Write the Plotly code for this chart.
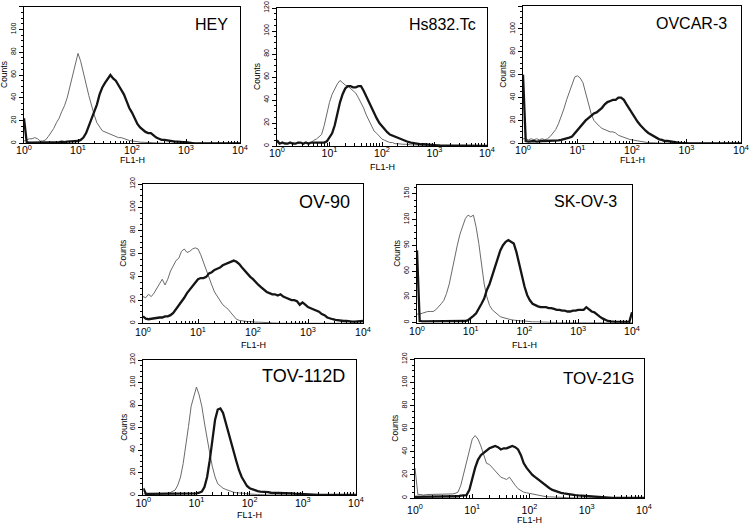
import plotly.graph_objects as go

# ---------------- data ----------------
# FL1-H channel positions (log-spaced, 20 per decade)
fl1 = [1.0, 1.122, 1.259, 1.413, 1.585, 1.778, 1.995, 2.239, 2.512, 2.818,
       3.162, 3.548, 3.981, 4.467, 5.012, 5.623, 6.31, 7.079, 7.943, 8.913,
       10.0, 11.22, 12.59, 14.13, 15.85, 17.78, 19.95, 22.39, 25.12, 28.18,
       31.62, 35.48, 39.81, 44.67, 50.12, 56.23, 63.1, 70.79, 79.43, 89.13,
       100.0, 112.2, 125.9, 141.3, 158.5, 177.8, 199.5, 223.9, 251.2, 281.8,
       316.2, 354.8, 398.1, 446.7, 501.2, 562.3, 631.0, 707.9, 794.3, 891.3,
       1000, 1122, 1259, 1413, 1585, 1778, 1995, 2239, 2512, 2818,
       3162, 3548, 3981, 4467, 5012, 5623, 6310, 7079, 7943, 8913,
       10000]

cell_lines = ["HEY", "Hs832.Tc", "OVCAR-3", "OV-90", "SK-OV-3", "TOV-112D", "TOV-21G"]

hey_ctrl = [2, 3, 4, 4, 5, 4, 2, 2, 3, 6,
            9, 13, 18, 22, 28, 33, 40, 50, 58, 68,
            79, 72, 63, 52, 42, 33, 25, 18, 14, 11,
            10, 9, 8, 7, 6, 5, 5, 4, 3, 2.5,
            2, 2, 1.5, 1, 1, 1, 0.8, 0.5, 0.5, 0.3,
            0, 0, 0, 0, 0, 0, 0, 0, 0, 0,
            0, 0, 0, 0, 0, 0, 0, 0, 0, 0,
            0, 0, 0, 0, 0, 0, 0, 0, 0, 0,
            0]
hey_stain = [22, 1, 0.5, 0.5, 1, 0.5, 1, 1, 1, 1,
             1, 1, 1, 1, 1.5, 1, 1.5, 1.5, 1.5, 2,
             2, 3, 5, 9, 15, 21, 28, 34, 43, 49,
             53, 56, 60, 57, 55, 51, 47, 43, 37, 31,
             27, 22, 17, 14, 12, 10, 9, 9, 7, 5,
             4, 3, 3, 2.5, 2, 2, 1.5, 1.5, 1, 1,
             1, 0.5, 0.3, 0, 0, 0, 0, 0, 0, 0,
             0, 0, 0, 0, 0, 0, 0, 0, 0, 0,
             0]

hs_ctrl = [3, 2, 2, 3, 2, 2, 3, 2, 2, 3,
           2, 3, 3, 3, 5, 6, 8, 10, 18, 28,
           38, 45, 50, 54, 57, 55, 53, 52, 50, 48,
           46, 42, 38, 33, 27, 22, 17, 13, 11, 8,
           6, 5, 4, 3, 3, 2, 2, 1.5, 1.5, 1.5,
           1, 1, 1, 1, 1, 1, 1, 0.8, 0.5, 0.5,
           0.5, 0.5, 0.3, 0, 0, 0, 0, 0, 0, 0,
           0, 0, 0, 0, 0, 0, 0, 0, 0, 0,
           0]
hs_stain = [5, 2, 3, 2, 2, 3, 2, 2, 3, 3,
            2, 3, 2, 3, 3, 3, 3, 3, 3, 4,
            7, 11, 18, 28, 38, 45, 50, 52, 52, 51,
            51, 52, 52, 48, 43, 38, 33, 29, 24, 20,
            17, 14, 12, 10, 9, 8, 7, 6, 5, 4,
            3.5, 3, 2.5, 2, 2, 1.5, 1.5, 1.2, 1, 1,
            0.8, 0.6, 0.5, 0.5, 0.3, 0, 0, 0, 0, 0,
            0, 0, 0, 0, 0, 0, 0, 0, 0, 0,
            0]

ovcar3_ctrl = [4, 4, 3, 4, 3, 4, 3, 4, 3, 4,
               6, 9, 12, 17, 23, 30, 38, 45, 53, 58,
               59, 57, 53, 44, 34, 26, 20, 17, 15, 13,
               12, 11, 10, 10, 9, 7, 6, 5, 4.5, 3.5,
               3, 2.5, 2, 1.5, 1, 0.8, 0.5, 0.5, 0.3, 0,
               0, 0, 0, 0, 0, 0, 0, 0, 0, 0,
               0, 0, 0, 0, 0, 0, 0, 0, 0, 0,
               0, 0, 0, 0, 0, 0, 0, 0, 0, 0,
               0]
ovcar3_stain = [60, 2, 1.5, 2, 2, 1.5, 2, 2, 2, 2,
                2, 2.5, 2.5, 2.5, 3, 3.5, 4, 5, 6, 9,
                12, 15, 18, 20, 22, 24, 26, 27, 29, 31,
                34, 36, 37, 38, 38, 40, 40, 38, 34, 30,
                26, 22, 19, 16, 13, 11, 9, 7.5, 6, 5,
                3.5, 3, 2, 2, 1.5, 1.2, 1, 0.5, 0.3, 0,
                0, 0, 0, 0, 0, 0, 0, 0, 0, 0,
                0, 0, 0, 0, 0, 0, 0, 0, 0, 0,
                0]

ov90_ctrl = [23, 22, 25, 23, 26, 30, 35, 38, 33, 38,
             45, 49, 54, 56, 62, 64, 61, 62, 64, 65,
             64, 59, 52, 46, 40, 33, 27, 23, 19, 16,
             14, 12, 9, 6, 3.5, 2.5, 2, 2, 1.5, 1.5,
             1, 1, 1, 1, 0.5, 0.5, 0.5, 0.3, 0, 0,
             0, 0, 0, 0, 0, 0, 0, 0, 0, 0,
             0, 0, 0, 0, 0, 0, 0, 0, 0, 0,
             0, 0, 0, 0, 0, 0, 0, 0, 0, 0,
             0]
ov90_stain = [6, 4, 3.5, 4, 4, 4.5, 5, 5, 6, 6,
              7, 9, 12, 16, 19, 22, 26, 29, 32, 36,
              38, 39, 39, 40, 43, 44, 46, 47, 48, 50,
              51, 52, 53, 54, 53, 51, 48, 45, 42, 40,
              38, 35, 33, 31, 29, 27, 26, 25, 25, 24,
              25, 23, 22, 21, 20, 20, 19, 16, 18, 16,
              14, 13, 12, 11, 10, 8, 7, 5, 4, 3.5,
              3, 2.5, 2, 2, 2, 1.5, 1.5, 1.5, 1.5, 1.5,
              2]

skov3_ctrl = [10, 10, 11, 12, 13, 13, 13, 15, 18, 22,
              26, 34, 45, 61, 76, 90, 103, 113, 121, 125,
              123, 125, 111, 92, 69, 45, 30, 20, 15, 12,
              9, 7, 6, 5, 4, 3.5, 3, 2.5, 2, 2,
              2, 1.5, 1.5, 1, 1, 1, 1, 0.8, 0.5, 0.5,
              0.5, 0.3, 0, 0, 0, 0, 0, 0, 0, 0,
              0, 0, 0, 0, 0, 0, 0, 0, 0, 0,
              0, 0, 0, 0, 0, 0, 0, 0, 0, 0,
              0]
skov3_stain = [84, 2, 1.5, 1.5, 1.5, 1.5, 1.5, 1.5, 1.5, 1.5,
               1.5, 1.5, 1.5, 1.5, 1.5, 1.5, 1.5, 1.5, 2, 3,
               5, 8, 11, 16, 22, 28, 38, 45, 55, 65,
               76, 84, 90, 94, 96, 94, 92, 82, 69, 53,
               42, 32, 26, 22, 20, 19, 18, 18, 18, 17,
               17, 16, 15, 15, 14, 14, 13, 13, 14, 14,
               15, 15, 15, 18, 15, 13, 12, 9, 7, 5,
               3, 2, 1.5, 1, 1, 1, 1, 1, 1, 1,
               12]

tov112_ctrl = [1, 1, 1, 1, 1, 1, 1, 1, 1.5, 1.5,
               2, 3, 4.5, 9, 16, 28, 43, 61, 79, 88,
               96, 89, 79, 64, 49, 37, 25, 16, 10, 8,
               6, 5, 4, 3, 2.5, 2, 2, 1.5, 1.5, 1,
               1, 0.8, 0.5, 0.5, 0.3, 0, 0, 0, 0, 0,
               0, 0, 0, 0, 0, 0, 0, 0, 0, 0,
               0, 0, 0, 0, 0, 0, 0, 0, 0, 0,
               0, 0, 0, 0, 0, 0, 0, 0, 0, 0,
               0]
tov112_stain = [6, 1, 1, 1, 1, 1, 1, 1, 1, 1,
                1, 1, 1, 1, 1, 1, 1, 1, 1, 1,
                1.5, 2, 3, 7, 16, 31, 49, 67, 76, 77,
                73, 64, 55, 46, 39, 30, 22, 16, 12, 8,
                6, 5, 4, 3.5, 3, 3, 2.5, 2.5, 2, 2,
                2, 2, 1.5, 1.5, 1.5, 1.5, 1.5, 1.2, 1, 1,
                1, 0.8, 0.5, 0.3, 0, 0, 0, 0, 0, 0,
                0, 0, 0, 0, 0, 0, 0, 0, 0, 0,
                0]

tov21_ctrl = [26, 3, 3, 2.5, 3, 3, 3.5, 3, 3, 3,
              3.5, 3, 3, 3.5, 4, 5, 11, 21, 33, 43,
              51, 54, 51, 45, 37, 30, 29, 26, 23, 20,
              18, 17, 16, 18, 14, 11, 8, 6.5, 5, 4.5,
              4, 3, 2.5, 2, 1.5, 1.2, 1, 1, 1, 0.8,
              0.7, 0.6, 0.5, 0.3, 0, 0, 0, 0, 0, 0,
              0, 0, 0, 0, 0, 0, 0, 0, 0, 0,
              0, 0, 0, 0, 0, 0, 0, 0, 0, 0,
              0]
tov21_stain = [1, 1, 1, 1, 1, 1, 1, 1, 1, 1,
               1, 1, 1, 1, 1.5, 1.5, 2, 2, 2.5, 7,
               17, 26, 33, 37, 39, 41, 43, 44, 45, 44,
               42, 43, 43, 44, 45, 44, 42, 37, 30, 26,
               23, 20, 18, 16, 14, 12, 10, 8.5, 7, 6,
               5, 4.5, 4, 3.5, 3, 2.8, 2.5, 2.2, 2, 1.8,
               1.5, 1.2, 1, 0.8, 0.5, 0.3, 0, 0, 0, 0,
               0, 0, 0, 0, 0, 0, 0, 0, 0, 0,
               0]

controls = [hey_ctrl, hs_ctrl, ovcar3_ctrl, ov90_ctrl, skov3_ctrl, tov112_ctrl, tov21_ctrl]
stains = [hey_stain, hs_stain, ovcar3_stain, ov90_stain, skov3_stain, tov112_stain, tov21_stain]

x_tickvals = [1, 10, 100, 1000, 10000]
x_ticktext = ["10<sup>0</sup>", "10<sup>1</sup>", "10<sup>2</sup>", "10<sup>3</sup>", "10<sup>4</sup>"]
y_max = [120, 120, 120, 120, 160, 120, 120]
y_major = [20, 20, 20, 20, 30, 20, 20]
y_minor = [5, 5, 5, 5, 7.5, 5, 5]

# ---------------- layout (pixels of the 750x524 canvas) ----------------
W, H = 750, 524
# (left, right, top, bottom) of each plot box in pixels
boxes = [(24, 240, 6.7, 143.3), (277, 487, 8, 146), (523, 741, 6, 143.3),
         (143, 363, 184, 323.3), (417, 632, 185, 322.7),
         (143.3, 356, 360, 495), (415, 644, 359.3, 498)]
# label position in domain fraction (x right edge, y center) and size
label_pos = [(0.954, 0.873, 16), (0.957, 0.884, 16), (0.945, 0.869, 16),
             (0.95, 0.874, 18), (0.94, 0.877, 16), (0.957, 0.878, 18), (0.969, 0.862, 17)]
fl1_offset = [16.5, 21, 16.5, 22, 22, 19.5, 22]
tick_standoff = [-3, -3, -3, -1, -1, -2, 2]

FONT = "Liberation Sans, Arial, sans-serif"
minor_x = [m * d for d in (1, 10, 100, 1000) for m in range(2, 10)]

fig = go.Figure()
layout = {}
annotations = []
for i, name in enumerate(cell_lines):
    sfx = "" if i == 0 else str(i + 1)
    l, r, t, b = boxes[i]
    fig.add_trace(go.Scatter(x=fl1, y=controls[i], mode="lines", xaxis="x" + sfx, yaxis="y" + sfx,
                             line=dict(color="#6a6a6a", width=1), showlegend=False, hoverinfo="skip"))
    fig.add_trace(go.Scatter(x=fl1, y=stains[i], mode="lines", xaxis="x" + sfx, yaxis="y" + sfx,
                             line=dict(color="#151515", width=2.3), showlegend=False, hoverinfo="skip"))
    layout["xaxis" + sfx] = dict(
        type="log", range=[0, 4], domain=[l / W, r / W], anchor="y" + sfx,
        showline=True, linecolor="black", linewidth=1.3, mirror=True,
        ticks="inside", ticklen=4, tickwidth=1, tickcolor="black",
        tickmode="array", tickvals=x_tickvals, ticktext=x_ticktext,
        ticklabelstandoff=tick_standoff[i],
        tickfont=dict(size=10.5, family=FONT, color="black"),
        showgrid=False, zeroline=False, automargin=False,
        minor=dict(tickmode="array", tickvals=minor_x, ticks="inside", ticklen=2.5,
                   tickwidth=1, tickcolor="black", showgrid=False))
    layout["yaxis" + sfx] = dict(
        range=[0, y_max[i]], domain=[1 - b / H, 1 - t / H], anchor="x" + sfx,
        showline=True, linecolor="black", linewidth=1.3, mirror=True,
        ticks="outside", ticklen=4, tickwidth=1, tickcolor="black",
        tickmode="linear", tick0=0, dtick=y_major[i], tickangle=-90,
        tickfont=dict(size=7, family=FONT, color="black"),
        showgrid=False, zeroline=False, automargin=False,
        minor=dict(dtick=y_minor[i], ticks="outside", ticklen=2, tickwidth=1,
                   tickcolor="black", showgrid=False))
    lx, ly, lsz = label_pos[i]
    annotations.append(dict(text=name, xref="x" + sfx + " domain", yref="y" + sfx + " domain",
                            x=lx, y=ly, xanchor="right", yanchor="middle", showarrow=False,
                            font=dict(size=lsz, family=FONT, color="black")))
    annotations.append(dict(text="FL1-H", xref="x" + sfx + " domain", yref="y" + sfx + " domain",
                            x=0.5, y=0, yshift=-fl1_offset[i], xanchor="center", yanchor="middle",
                            showarrow=False, font=dict(size=9, family=FONT, color="black")))
    annotations.append(dict(text="Counts", xref="x" + sfx + " domain", yref="y" + sfx + " domain",
                            x=0, y=0.5, xshift=-20, xanchor="center", yanchor="middle", textangle=-90,
                            showarrow=False, font=dict(size=8.5, family=FONT, color="black")))

fig.update_layout(**layout)
fig.update_layout(width=W, height=H, margin=dict(l=0, r=0, t=0, b=0),
                  paper_bgcolor="white", plot_bgcolor="white",
                  annotations=annotations, showlegend=False)
fig.write_html("out.html", config={"displayModeBar": False},
               post_script="document.body.style.margin='0px';document.body.style.overflow='hidden';")
